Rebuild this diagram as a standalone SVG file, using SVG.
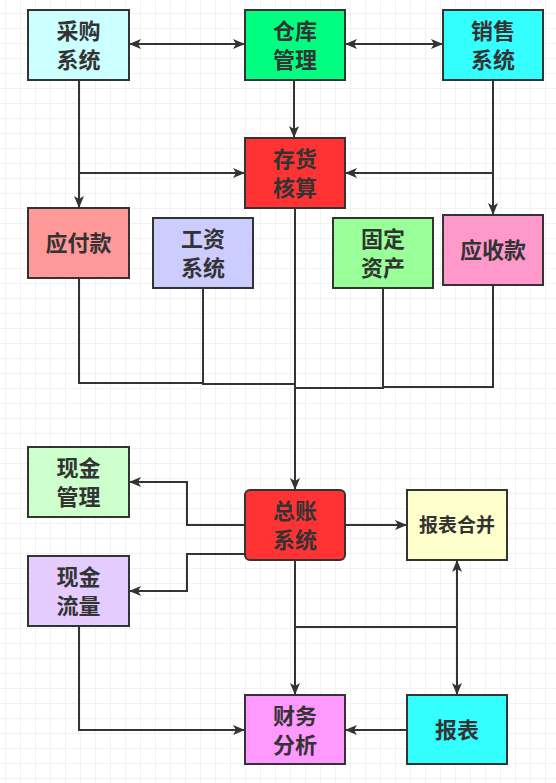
<svg xmlns="http://www.w3.org/2000/svg" width="556" height="783" viewBox="0 0 556 783">
<style>
.n{stroke:#333333;stroke-width:2}
.t{font-family:"Noto Sans CJK SC","Noto Sans",sans-serif;font-weight:bold;font-size:22px;fill:#333333;text-anchor:middle}
.c path{fill:none;stroke:#333333;stroke-width:2}
</style>
<defs>
<pattern id="grid" x="5" y="13" width="15" height="15" patternUnits="userSpaceOnUse">
<path d="M15,0 H0 V15" fill="none" stroke="#e6e6e6" stroke-width="1"/>
</pattern>
<marker id="a" viewBox="0 0 12 10" refX="12" refY="5" markerWidth="12" markerHeight="10" markerUnits="userSpaceOnUse" orient="auto-start-reverse">
<path d="M0,0 L12,5 L0,10 L3,5 z" fill="#333333"/>
</marker>
</defs>
<rect width="556" height="783" fill="#ffffff"/>
<rect width="556" height="783" fill="url(#grid)"/>
<g class="c" id="connectors">
<path d="M129,44 H245" marker-start="url(#a)" marker-end="url(#a)"/>
<path d="M345,44 H443" marker-start="url(#a)" marker-end="url(#a)"/>
<path d="M294,80 V138" marker-end="url(#a)"/>
<path d="M79,80 V208" marker-end="url(#a)"/>
<path d="M79,173 H245" marker-end="url(#a)"/>
<path d="M493,80 V215" marker-end="url(#a)"/>
<path d="M493,173 H345" marker-end="url(#a)"/>
<path d="M79,278 V383 H203"/>
<path d="M203,288 V384 H295"/>
<path d="M383,288 V388 H295"/>
<path d="M493,285 V387 H383"/>
<path d="M295,208 V490" marker-end="url(#a)"/>
<path d="M245,525 H187 V482 H129" marker-end="url(#a)"/>
<path d="M245,554 H187 V591 H129" marker-end="url(#a)"/>
<path d="M345,525 H407" marker-end="url(#a)"/>
<path d="M295,560 V695" marker-end="url(#a)"/>
<path d="M295,627 H457"/>
<path d="M457,627 V560" marker-end="url(#a)"/>
<path d="M457,627 V695" marker-end="url(#a)"/>
<path d="M79,626 V730 H245" marker-end="url(#a)"/>
<path d="M407,730 H345" marker-end="url(#a)"/>
</g>
<g id="caigou"><rect class="n" x="28" y="10" width="101" height="70" fill="#CCFFFF"/><text class="t" x="78.5" y="38.5">采购<tspan x="78.5" dy="29">系统</tspan></text></g>
<g id="cangku"><rect class="n" x="245" y="10" width="100" height="70" fill="#00FF80"/><text class="t" x="295" y="38.5">仓库<tspan x="295" dy="29">管理</tspan></text></g>
<g id="xiaoshou"><rect class="n" x="443" y="10" width="100" height="70" fill="#33FFFF"/><text class="t" x="493" y="38.5">销售<tspan x="493" dy="29">系统</tspan></text></g>
<g id="cunhuo"><rect class="n" x="245" y="138" width="100" height="70" fill="#FF3333"/><text class="t" x="295" y="166.5">存货<tspan x="295" dy="29">核算</tspan></text></g>
<g id="yingfu"><rect class="n" x="28" y="208" width="101" height="70" fill="#FF9999"/><text class="t" x="78.5" y="251">应付款</text></g>
<g id="gongzi"><rect class="n" x="153" y="218" width="100" height="70" fill="#CCCCFF"/><text class="t" x="203" y="246.5">工资<tspan x="203" dy="29">系统</tspan></text></g>
<g id="guding"><rect class="n" x="333" y="218" width="100" height="70" fill="#99FF99"/><text class="t" x="383" y="246.5">固定<tspan x="383" dy="29">资产</tspan></text></g>
<g id="yingshou"><rect class="n" x="443" y="215" width="100" height="70" fill="#FF99CC"/><text class="t" x="493" y="258">应收款</text></g>
<g id="xianjinguanli"><rect class="n" x="28" y="447" width="101" height="70" fill="#CCFFCC"/><text class="t" x="78.5" y="475.5">现金<tspan x="78.5" dy="29">管理</tspan></text></g>
<g id="zongzhang"><rect class="n" x="245" y="490" width="100" height="70" rx="5" fill="#FF3333"/><text class="t" x="295" y="518.5">总账<tspan x="295" dy="29">系统</tspan></text></g>
<g id="baobiaohebing"><rect class="n" x="407" y="490" width="100" height="70" fill="#FFFFCC"/><text class="t" x="457" y="532" style="font-size:19px">报表合并</text></g>
<g id="xianjinliuliang"><rect class="n" x="28" y="556" width="101" height="70" fill="#E5CCFF"/><text class="t" x="78.5" y="584.5">现金<tspan x="78.5" dy="29">流量</tspan></text></g>
<g id="caiwu"><rect class="n" x="245" y="695" width="100" height="69" fill="#FF99FF"/><text class="t" x="295" y="723.5">财务<tspan x="295" dy="29">分析</tspan></text></g>
<g id="baobiao"><rect class="n" x="407" y="695" width="100" height="69" fill="#33FFFF"/><text class="t" x="457" y="738">报表</text></g>
</svg>
